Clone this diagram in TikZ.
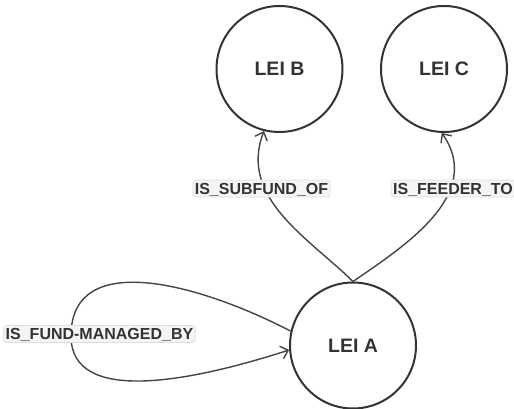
\documentclass[tikz,border=0pt]{standalone}
\usepackage{fontspec}
\setmainfont{Liberation Sans}
\usetikzlibrary{arrows.meta}
\definecolor{ink}{HTML}{333333}
\definecolor{edgecol}{HTML}{444444}
\definecolor{lblfill}{HTML}{F5F5F5}
\definecolor{lbldraw}{HTML}{DDDDDD}
\begin{document}
\begin{tikzpicture}[x=1pt,y=-1pt,
  entity/.style={circle, draw=ink, line width=2pt, minimum size=126pt, inner sep=0pt,
    font=\fontsize{19.5}{20}\selectfont\bfseries, text=ink},
  rel/.style={draw=edgecol, line width=1.4pt, -{Straight Barb[length=7pt,width=13pt]}},
  lbl/.style={fill=lblfill, draw=lbldraw, line width=0.6pt, rounded corners=3pt,
    inner xsep=2pt, inner ysep=2pt, text height=12pt, text depth=1pt,
    font=\fontsize{16}{16}\selectfont\bfseries, text=ink}]
\useasboundingbox (0,0) rectangle (514,409);
\node[entity] (B) at (279.5,69) {LEI B};
\node[entity] (C) at (444,69) {LEI C};
\node[entity] (A) at (353,345.5) {LEI A};
\coordinate (loopL) at (71,336);
\draw[rel] (A.north) .. controls (310,239) and (238,198) .. (B.256);
\draw[rel] (A.north) .. controls (403,247) and (485,195) .. (C.268);
\draw[rel] (A.167) .. controls (200,284) and (71,248) .. (loopL)
  .. controls (71,406) and (193,381) .. (A.184);
\node[lbl] (l1) at (261.5,188.5) {IS\_SUBFUND\_OF};
\node[lbl] (l2) at (453,188.5) {IS\_FEEDER\_TO};
\node[lbl] (l3) at (99.5,334) {IS\_FUND-MANAGED\_BY};
\end{tikzpicture}
\end{document}
